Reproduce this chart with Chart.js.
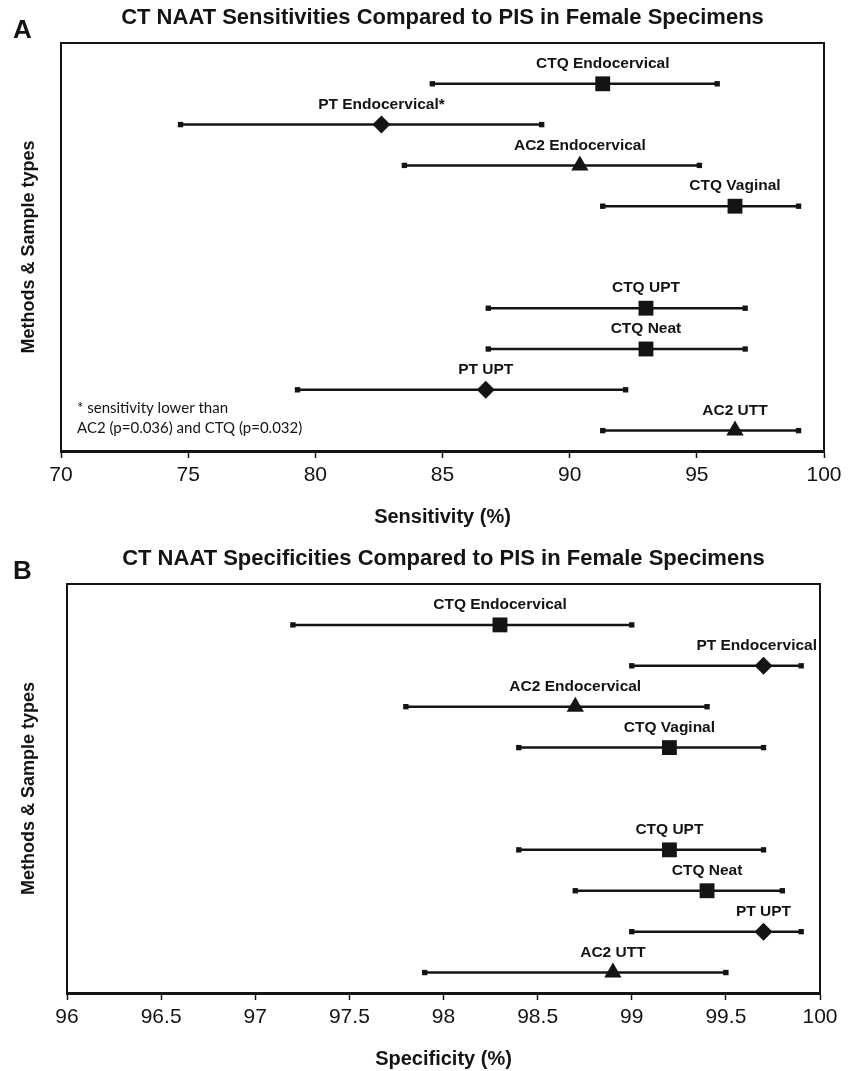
<!DOCTYPE html>
<html>
<head>
<meta charset="utf-8">
<script src="https://cdn.jsdelivr.net/npm/chart.js@4.4.0/dist/chart.umd.min.js"></script>
<style>
  html, body { margin: 0; padding: 0; background: #fff; }
  canvas { display: block; }
  #wrap { position: relative; width: 852px; height: 1071px; }
</style>
</head>
<body>
<div id="wrap">
  <canvas id="sens" width="852" height="541"></canvas>
  <canvas id="spec" width="852" height="530"></canvas>
</div>
<script>
// categories, top to bottom
const categories = ['CTQ Endocervical', 'PT Endocervical', 'AC2 Endocervical', 'CTQ Vaginal',
    'CTQ UPT', 'CTQ Neat', 'PT UPT', 'AC2 UTT'];
const sensLabels = ['CTQ Endocervical', 'PT Endocervical*', 'AC2 Endocervical', 'CTQ Vaginal',
    'CTQ UPT', 'CTQ Neat', 'PT UPT', 'AC2 UTT'];
// y position of each row (gap between the first four and the last four)
const rowPos = [9.5, 8.5, 7.5, 6.5, 4, 3, 2, 1];
const markerShapes = ['rect', 'rectRot', 'triangle', 'rect', 'rect', 'rect', 'rectRot', 'triangle'];

const sensPoint = [91.3, 82.6, 90.4, 96.5, 93.0, 93.0, 86.7, 96.5];
const sensLow = [84.6, 74.7, 83.5, 91.3, 86.8, 86.8, 79.3, 91.3];
const sensHigh = [95.8, 88.9, 95.1, 99.0, 96.9, 96.9, 92.2, 99.0];

const specPoint = [98.3, 99.7, 98.7, 99.2, 99.2, 99.4, 99.7, 98.9];
const specLow = [97.2, 99.0, 97.8, 98.4, 98.4, 98.7, 99.0, 97.9];
const specHigh = [99.0, 99.9, 99.4, 99.7, 99.7, 99.8, 99.9, 99.5];

const sensTicks = [70, 75, 80, 85, 90, 95, 100];
const specTicks = [96, 96.5, 97, 97.5, 98, 98.5, 99, 99.5, 100];

const INK = '#141414';
const FONT = '"Liberation Sans", Arial, sans-serif';
Chart.defaults.font.family = FONT;
Chart.defaults.color = INK;

function markerRadius(shape) {
    if (shape === 'rect') return 10.5;
    if (shape === 'rectRot') return 9;
    return 10;
}

function buildDatasets(point, low, high) {
    const sets = [];
    for (let i = 0; i < categories.length; i++) {
        sets.push({
            label: categories[i] + ' CI',
            data: [{ x: low[i], y: rowPos[i] }, { x: high[i], y: rowPos[i] }],
            showLine: true,
            borderColor: INK,
            borderWidth: 2.5,
            pointStyle: 'rect',
            pointRadius: 3.8,
            pointBackgroundColor: INK,
            pointBorderColor: INK,
            pointBorderWidth: 0,
        });
    }
    sets.push({
        label: 'estimate',
        data: point.map((v, i) => ({ x: v, y: rowPos[i] })),
        pointStyle: markerShapes,
        pointRadius: markerShapes.map(markerRadius),
        pointBackgroundColor: INK,
        pointBorderColor: INK,
        pointBorderWidth: 0,
        isMarkers: true,
    });
    return sets;
}

// names above markers + box outline + panel letter/footnote
const decor = {
    id: 'decor',
    afterDatasetsDraw(chart, args, opts) {
        const ctx = chart.ctx;
        const area = chart.chartArea;
        ctx.save();
        ctx.strokeStyle = INK;
        ctx.lineWidth = 2;
        ctx.beginPath();
        ctx.moveTo(area.left, area.top);
        ctx.lineTo(area.right, area.top);
        ctx.lineTo(area.right, area.bottom);
        ctx.stroke();

        const idx = chart.data.datasets.findIndex(d => d.isMarkers);
        const meta = chart.getDatasetMeta(idx);
        ctx.font = 'bold 15.5px ' + FONT;
        ctx.fillStyle = INK;
        ctx.textAlign = 'center';
        ctx.textBaseline = 'middle';
        meta.data.forEach((el, i) => {
            const txt = opts.labels[i];
            const w = ctx.measureText(txt).width;
            let x = el.x;
            if (x + w / 2 > area.right - 3) x = area.right - 3 - w / 2;
            ctx.fillText(txt, x, el.y - 20);
        });

        ctx.font = 'bold 26px ' + FONT;
        ctx.textAlign = 'left';
        ctx.fillText(opts.letter, 13, 31);

        if (opts.note) {
            ctx.font = '15px Lato, "Open Sans", sans-serif';
            ctx.textBaseline = 'middle';
            opts.note.forEach((line, k) => ctx.fillText(line, 77, 408 + k * 20));
        }
        ctx.restore();
    },
};

function makeChart(id, cfg) {
    return new Chart(document.getElementById(id), {
        type: 'scatter',
        data: { datasets: buildDatasets(cfg.point, cfg.low, cfg.high) },
        options: {
            responsive: false,
            animation: false,
            layout: { padding: { left: 0, right: cfg.padRight, top: 0, bottom: 0 } },
            plugins: {
                legend: { display: false },
                tooltip: { enabled: false },
                title: {
                    display: true,
                    text: cfg.title,
                    fullSize: false,
                    color: INK,
                    font: { size: 22, weight: 'bold' },
                    padding: { top: 5, bottom: 11.6 },
                },
                decor: { labels: cfg.labels, letter: cfg.letter, note: cfg.note },
            },
            scales: {
                x: {
                    type: 'linear',
                    min: cfg.ticks[0],
                    max: cfg.ticks[cfg.ticks.length - 1],
                    afterBuildTicks: scale => {
                        scale.ticks = cfg.ticks.map(v => ({ value: v }));
                    },
                    afterFit: scale => { scale.height = cfg.axisHeight; },
                    border: { display: true, color: INK, width: 3 },
                    grid: { drawOnChartArea: false, drawTicks: true, tickLength: 7, tickWidth: 1.5, tickColor: INK },
                    ticks: {
                        color: INK,
                        font: { size: 21 },
                        padding: 5,
                        maxRotation: 0,
                        autoSkip: false,
                        callback: v => String(v),
                    },
                    title: {
                        display: true,
                        text: cfg.xTitle,
                        color: INK,
                        font: { size: 20, weight: 'bold' },
                        padding: { top: 4, bottom: cfg.xTitlePad },
                    },
                },
                y: {
                    type: 'linear',
                    min: 0.5,
                    max: 10.5,
                    afterFit: scale => { scale.width = cfg.left; },
                    border: { display: true, color: INK, width: 2 },
                    grid: { display: false },
                    ticks: { display: false },
                    title: {
                        display: true,
                        text: 'Methods & Sample types',
                        color: INK,
                        font: { size: 18, weight: 'bold' },
                        padding: { top: 18, bottom: 0 },
                    },
                },
            },
        },
        plugins: [decor],
    });
}

makeChart('sens', {
    point: sensPoint, low: sensLow, high: sensHigh, labels: sensLabels,
    ticks: sensTicks, title: 'CT NAAT Sensitivities Compared to PIS in Female Specimens',
    xTitle: 'Sensitivity (%)', letter: 'A', left: 61, padRight: 28, axisHeight: 90, xTitlePad: 12,
    note: ['* sensitivity lower than', 'AC2 (p=0.036) and CTQ (p=0.032)'],
});

makeChart('spec', {
    point: specPoint, low: specLow, high: specHigh, labels: categories,
    ticks: specTicks, title: 'CT NAAT Specificities Compared to PIS in Female Specimens',
    xTitle: 'Specificity (%)', letter: 'B', left: 67, padRight: 32, axisHeight: 78, xTitlePad: 0,
    note: null,
});
</script>
</body>
</html>
